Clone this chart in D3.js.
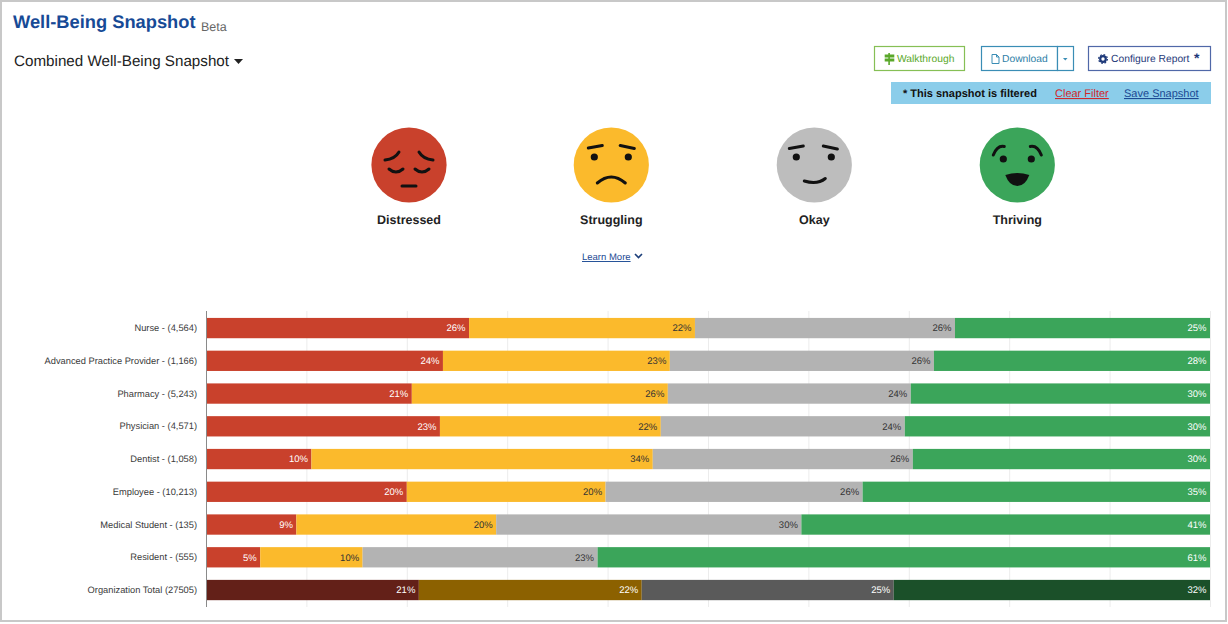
<!DOCTYPE html>
<html>
<head>
<meta charset="utf-8">
<script src="https://cdn.jsdelivr.net/npm/d3@7"></script>
<style>
  html, body { margin: 0; padding: 0; background: #fff; }
  svg { display: block; }
  text { font-family: "Liberation Sans", Arial, sans-serif; text-rendering: geometricPrecision; }
  .tickaxis .domain { stroke: #8a8a8a; }
  .tickaxis line { display: none; }
  .tickaxis text { font-size: 9.3px; fill: #3a3a3a; }
  .grid .domain { display: none; }
  .grid line { stroke: #ececec; }
</style>
</head>
<body>
<script>
const categories = [
  "Nurse - (4,564)", "Advanced Practice Provider - (1,166)", "Pharmacy - (5,243)",
  "Physician - (4,571)", "Dentist - (1,058)", "Employee - (10,213)",
  "Medical Student - (135)", "Resident - (555)", "Organization Total (27505)"
];
const seriesNames = ["Distressed", "Struggling", "Okay", "Thriving"];

// bar lengths
const distressed = [26.2, 23.6, 20.5, 23.3, 10.5, 20.0, 9.0, 5.4, 21.2];
const struggling = [22.5, 22.6, 25.5, 22.0, 34.0, 19.8, 19.9, 10.2, 22.2];
const okay       = [25.9, 26.3, 24.2, 24.3, 25.9, 25.6, 30.4, 23.4, 25.1];
const thriving   = [25.4, 27.5, 29.8, 30.4, 29.6, 34.6, 40.7, 61.0, 31.5];

// printed labels (the source rounds these on its own)
const distressedLabels = ["26%", "24%", "21%", "23%", "10%", "20%", "9%", "5%", "21%"];
const strugglingLabels = ["22%", "23%", "26%", "22%", "34%", "20%", "20%", "10%", "22%"];
const okayLabels       = ["26%", "26%", "24%", "24%", "26%", "26%", "30%", "23%", "25%"];
const thrivingLabels   = ["25%", "28%", "30%", "30%", "30%", "35%", "41%", "61%", "32%"];

const gridTicks = [0, 10, 20, 30, 40, 50, 60, 70, 80, 90, 100];

const barColors   = ["#c9412c", "#fbba2c", "#b3b3b3", "#3ba55a"];
const totalColors = ["#632018", "#8c6100", "#5a5a5a", "#1b5029"];
const labelColors = ["#fff", "#333", "#333", "#fff"];

const width = 1228, height = 624;
const svg = d3.select("body").append("svg").attr("width", width).attr("height", height);

// page frame
svg.append("rect").attr("x", 1).attr("y", 1).attr("width", 1225).attr("height", 620)
  .attr("fill", "#fff").attr("stroke", "#c8c8c8").attr("stroke-width", 2);

// header
svg.append("text").attr("x", 13).attr("y", 28).attr("font-size", 18.3)
  .attr("font-weight", 700).attr("fill", "#174a96").text("Well-Being Snapshot");
svg.append("text").attr("x", 201).attr("y", 31).attr("font-size", 12.5).attr("fill", "#666").text("Beta");
svg.append("text").attr("x", 14).attr("y", 66).attr("font-size", 15.2).attr("fill", "#222").text("Combined Well-Being Snapshot");
svg.append("path").attr("d", "M234,59h9l-4.5,5z").attr("fill", "#222");

// buttons
function button(x, w, color, fill) {
  svg.append("rect").attr("x", x + 0.5).attr("y", 46.5).attr("width", w).attr("height", 24)
    .attr("fill", fill || "#fff").attr("stroke", color).attr("stroke-width", 1.2);
}
function buttonText(x, s, color) {
  svg.append("text").attr("x", x).attr("y", 62).attr("font-size", 10.3).attr("fill", color).text(s);
}
button(874, 90, "#86bf55");
svg.append("path").attr("fill", "#5aa82a")
  .attr("d", "M888.3,53h1.6v1.5h4.4v3h-4.4v1h4.4v3h-4.4v3.5h-1.6v-3.5h-3.6v-3h3.6v-1h-3.6v-3h3.6z");
buttonText(897, "Walkthrough", "#5aa82a");

button(981, 76, "#3a8db5");
button(1057, 16, "#3a8db5");
svg.append("path").attr("fill", "none").attr("stroke", "#3a8db5").attr("stroke-width", 1)
  .attr("d", "M992,54.5h4.5l2.5,2.5v6.5h-7z M996.5,54.5v2.5h2.5");
buttonText(1002, "Download", "#2f7fa8");
svg.append("path").attr("d", "M1063,58h4.5l-2.25,2.5z").attr("fill", "#3a8db5");

button(1088, 122, "#5068a8");
svg.append("circle").attr("cx", 1103).attr("cy", 59).attr("r", 2.8)
  .attr("fill", "none").attr("stroke", "#1f3a7a").attr("stroke-width", 2.2);
svg.append("circle").attr("cx", 1103).attr("cy", 59).attr("r", 4.4)
  .attr("fill", "none").attr("stroke", "#1f3a7a").attr("stroke-width", 1.2).attr("stroke-dasharray", "1.7 1.75");
buttonText(1111, "Configure Report", "#1f3a7a");
svg.append("text").attr("x", 1194).attr("y", 63).attr("font-size", 14).attr("font-weight", 700).attr("fill", "#1f3a7a").text("*");

// filter banner
svg.append("rect").attr("x", 891).attr("y", 82).attr("width", 320).attr("height", 22).attr("fill", "#8bcdea");
svg.append("text").attr("x", 903).attr("y", 97).attr("font-size", 11).attr("font-weight", 700).attr("fill", "#111")
  .text("* This snapshot is filtered");
svg.append("text").attr("x", 1055).attr("y", 97).attr("font-size", 11).attr("fill", "#d0282c")
  .attr("text-decoration", "underline").text("Clear Filter");
svg.append("text").attr("x", 1124).attr("y", 97).attr("font-size", 11).attr("fill", "#1c4a94")
  .attr("text-decoration", "underline").text("Save Snapshot");

// faces
const faceX = [409, 611.3, 814.3, 1017.3];
const faceColors = ["#c9412c", "#fbba2c", "#bdbdbd", "#3ba55a"];
const faceMarks = [
  ["M-24,-5Q-14,-6,-10,-13", "M10,-13Q14,-6,24,-5", "M-20,4Q-13,10,-6,4", "M6,4Q13,10,20,4", "M-7,21H7"],
  ["M-23,-17L-9,-19.5", "M9,-19.5L23,-16.5", "M-14,18Q0,6,14,18"],
  ["M-25,-16.5L-11,-19", "M9,-19L23,-16", "M-10,16Q3,20,11,13.5"],
  ["M-24,-10Q-20,-20,-13,-18.5", "M13,-18.5Q20,-20,24,-10"]
];
const eyes = [[], [[-17, -8], [17, -8]], [[-18, -8], [17, -8]], [[-14, -6], [14, -6]]];
seriesNames.forEach((name, i) => {
  const g = svg.append("g").attr("transform", `translate(${faceX[i]},165)`);
  g.append("circle").attr("r", 37.6).attr("fill", faceColors[i]);
  faceMarks[i].forEach(d => g.append("path").attr("d", d).attr("fill", "none")
    .attr("stroke", "#111").attr("stroke-width", 3).attr("stroke-linecap", "round"));
  eyes[i].forEach(e => g.append("circle").attr("cx", e[0]).attr("cy", e[1]).attr("r", 3.6).attr("fill", "#111"));
  if (i === 3) g.append("path").attr("d", "M-12,10Q0,6,12,10Q8,21,0,21Q-8,21,-12,10z").attr("fill", "#111");
  svg.append("text").attr("x", faceX[i]).attr("y", 224).attr("text-anchor", "middle")
    .attr("font-size", 12.5).attr("font-weight", 700).attr("fill", "#222").text(name);
});

// learn more
svg.append("text").attr("x", 582).attr("y", 260).attr("font-size", 9.5).attr("fill", "#1c4a94")
  .attr("text-decoration", "underline").text("Learn More");
svg.append("path").attr("d", "M635,254l3.5,3.5l3.5,-3.5").attr("fill", "none").attr("stroke", "#1c3f7a").attr("stroke-width", 1.6);

// chart
const plotLeft = 206, plotRight = 1210, plotTop = 311, plotBottom = 607;
const x = d3.scaleLinear().domain([0, 100]).range([plotLeft, plotRight]);
const y = d3.scaleBand().domain(categories).range([plotTop + 0.7, plotBottom - 0.6]).paddingInner(0.38).paddingOuter(0.19);

svg.append("g").attr("class", "grid").attr("transform", `translate(0,${plotBottom})`)
  .call(d3.axisBottom(x).tickValues(gridTicks).tickSize(-(plotBottom - plotTop)).tickFormat(""));

const rows = categories.map((c, i) => ({
  category: c,
  total: i === categories.length - 1,
  Distressed: distressed[i], Struggling: struggling[i], Okay: okay[i], Thriving: thriving[i]
}));
const labels = [distressedLabels, strugglingLabels, okayLabels, thrivingLabels];
const stacked = d3.stack().keys(seriesNames)(rows);

const layers = svg.append("g").selectAll("g").data(stacked).join("g");
layers.selectAll("rect").data(d => d).join("rect")
  .attr("x", d => x(d[0]))
  .attr("y", d => y(d.data.category))
  .attr("width", d => x(Math.min(d[1], 100)) - x(d[0]))
  .attr("height", y.bandwidth())
  .attr("fill", function(d) {
    const s = d3.select(this.parentNode).datum().index;
    return d.data.total ? totalColors[s] : barColors[s];
  });
layers.selectAll("text").data(d => d).join("text")
  .attr("x", d => x(Math.min(d[1], 100)) - 3.5)
  .attr("y", d => y(d.data.category) + y.bandwidth() / 2 + 3.4)
  .attr("text-anchor", "end")
  .attr("font-size", 9.5)
  .attr("fill", function(d) {
    const s = d3.select(this.parentNode).datum().index;
    return d.data.total ? "#fff" : labelColors[s];
  })
  .text(function(d, i) { return labels[d3.select(this.parentNode).datum().index][i]; });

const yAxis = svg.append("g").attr("class", "tickaxis").attr("transform", `translate(${plotLeft},0)`)
  .call(d3.axisLeft(y).tickSize(0).tickPadding(9));
yAxis.select(".domain").attr("d", `M0.5,${plotTop}V${plotBottom}`);
</script>
</body>
</html>
